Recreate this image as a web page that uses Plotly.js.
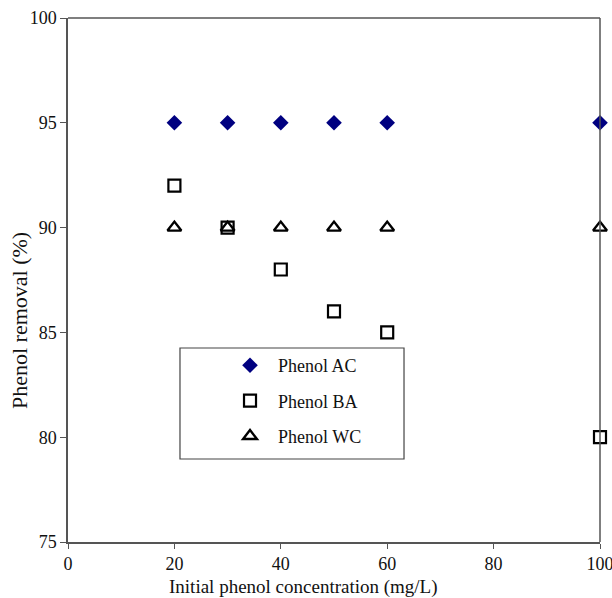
<!DOCTYPE html>
<html><head><meta charset="utf-8">
<script src="https://cdn.plot.ly/plotly-3.0.1.min.js"></script>
<style>body{margin:0;padding:0;background:#fff}#chart{width:612px;height:598px}</style>
</head><body><div id="chart"></div>
<script>
var concentration = [20, 30, 40, 50, 60, 100];
var phenolAC = [95, 95, 95, 95, 95, 95];
var phenolBA = [92, 90, 88, 86, 85, 80];
var phenolWC = [90, 90, 90, 90, 90, 90];
var seriesNames = ["Phenol AC", "Phenol BA", "Phenol WC"];
var xTicks = [0, 20, 40, 60, 80, 100];
var yTicks = [75, 80, 85, 90, 95, 100];

var traces = [
  {x: concentration, y: phenolAC, name: seriesNames[0], mode: 'markers', type: 'scatter', legendgroup: 'a',
   marker: {symbol: 'diamond', size: 12, color: '#000080'}, cliponaxis: false},
  {x: concentration, y: phenolBA, name: seriesNames[1], mode: 'markers', type: 'scatter', legendgroup: 'b',
   marker: {symbol: 'square-open', size: 12, color: '#000', line: {width: 2.2, color: '#000'}}, cliponaxis: false},
  {x: concentration, y: phenolWC, name: seriesNames[2], mode: 'markers', type: 'scatter', legendgroup: 'c',
   marker: {symbol: 'triangle-up-open', size: 12, color: '#000', line: {width: 2.4, color: '#000'}}, cliponaxis: false}
];

var fam = '"Liberation Serif", "Times New Roman", serif';

var layout = {
  width: 612, height: 598,
  margin: {l: 68, r: 12, t: 18, b: 56},
  paper_bgcolor: '#fff', plot_bgcolor: '#fff',
  font: {family: fam, color: '#111'},
  showlegend: true,
  legend: {x: 0.2895, y: 0.372, xanchor: 'left', yanchor: 'top', bgcolor: 'rgba(0,0,0,0)',
           borderwidth: 0, font: {family: fam, size: 18, color: '#111'}, itemwidth: 46,
           traceorder: 'grouped', tracegroupgap: 9},
  xaxis: {range: [0, 100], tickvals: xTicks, ticks: 'outside', ticklen: 5, tickcolor: '#555',
          showline: true, linecolor: '#555', linewidth: 1.5, showgrid: false, zeroline: false,
          ticklabeloverflow: 'allow', automargin: false,
          tickfont: {family: fam, size: 18, color: '#111'}},
  yaxis: {range: [75, 100], tickvals: yTicks, ticks: 'outside', ticklen: 6, tickcolor: '#555',
          showline: true, linecolor: '#555', linewidth: 1.5, showgrid: false, zeroline: false,
          ticklabeloverflow: 'allow', automargin: false,
          tickfont: {family: fam, size: 18, color: '#111'}},
  annotations: [
    {text: 'Initial phenol concentration (mg/L)', xref: 'paper', yref: 'paper', x: 0.4436, y: -0.086,
     xanchor: 'center', yanchor: 'middle', showarrow: false, font: {family: fam, size: 19, color: '#111'}},
    {text: 'Phenol removal (%)', xref: 'paper', yref: 'paper', x: -0.09, y: 0.422, textangle: -90,
     xanchor: 'center', yanchor: 'middle', showarrow: false, font: {family: fam, size: 22, color: '#111'}}
  ],
  shapes: [
    {type: 'line', xref: 'paper', yref: 'paper', x0: 0, x1: 1, y0: 1, y1: 1, line: {color: '#555', width: 1.5}},
    {type: 'line', xref: 'paper', yref: 'paper', x0: 1, x1: 1, y0: 0, y1: 1, line: {color: '#555', width: 1.5}},
    {type: 'rect', xref: 'paper', yref: 'paper', x0: 0.2105, x1: 0.6316, y0: 0.1584, y1: 0.3702,
     line: {color: '#444', width: 1.2}, fillcolor: 'rgba(0,0,0,0)'}
  ]
};

Plotly.newPlot('chart', traces, layout, {displayModeBar: false});
</script></body></html>
